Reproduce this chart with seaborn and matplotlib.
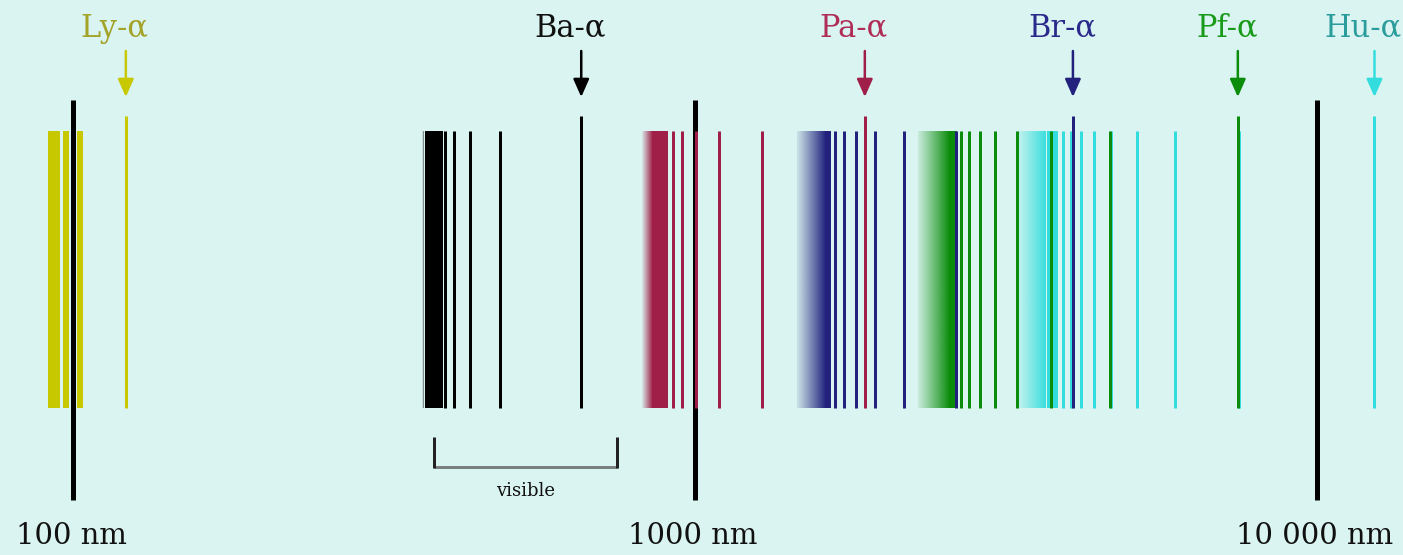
import numpy as np
import matplotlib.pyplot as plt
import seaborn as sns
from matplotlib.colors import to_rgb

# hydrogen spectral series, wavelengths in nm (first entry of each list is the alpha line)
series_names = ["Ly", "Ba", "Pa", "Br", "Pf", "Hu"]
lyman_lines = [121.6, 102.6, 97.3]
balmer_lines = [656.3, 486.1, 434.0, 410.2, 397.0]
paschen_lines = [1875.1, 1281.8, 1093.8, 1004.9, 954.6, 922.9]
brackett_lines = [4051.2, 2625.9, 2166.1, 1944.6, 1817.4, 1736.2, 1680.7]
pfund_lines = [7459.9, 4653.8, 3740.6, 3296.1, 3039.2, 2872.7, 2758.3, 2675.9]
humphreys_lines = [12372.0, 7502.4, 5908.2, 5128.7, 4672.5, 4376.0, 4171.0, 4021.0, 3908.0]

# dense part near each series limit: fades in from the limit, then solid
series_limit = [91.2, 364.6, 820.4, 1458.0, 2279.0, 3282.0]
band_solid_from = [91.3, 368.5, 852.0, 1620.0, 2560.0, 3680.0]
band_solid_to = [95.3, 393.0, 905.0, 1655.0, 2640.0, 3830.0]

decades = [100, 1000, 10000]
decade_labels = ["100 nm", "1000 nm", "10 000 nm"]
visible_range = [380, 750]

line_colors = ["#c8c800", "#000000", "#a01f48", "#22227e", "#0b8c0b", "#33dddd"]
label_colors = ["#a3a32a", "#111111", "#b02d58", "#2a2a8c", "#1a9a1a", "#2a9c9c"]
bg = "#daf5f1"

all_lines = [lyman_lines, balmer_lines, paschen_lines, brackett_lines, pfund_lines, humphreys_lines]

sns.set_theme(style="white")
plt.rcParams["font.family"] = ["DejaVu Serif"]

fig = plt.figure(figsize=(14.03, 5.55), dpi=100, facecolor=bg)
ax = fig.add_axes([0, 0, 1, 1])
ax.set_facecolor(bg)
ax.set_xscale("log")

px = 0.72  # points per pixel at 100 dpi
band_top, band_bottom, alpha_top = 131, 408, 116

# draw from the longest series up so the shorter ones sit on top
for i in reversed(range(len(series_names))):
    c = line_colors[i]
    z = 2 + (len(series_names) - i)
    lines = all_lines[i]

    # fading part of the band
    if band_solid_from[i] > series_limit[i] * 1.002:
        img = np.zeros((1, 64, 4))
        img[..., :3] = to_rgb(c)
        img[0, :, 3] = np.linspace(0.1, 1.0, 64)
        ax.imshow(img, extent=[series_limit[i], band_solid_from[i], band_bottom, band_top],
                  aspect="auto", interpolation="bilinear", zorder=z)
    ax.fill_between([band_solid_from[i], band_solid_to[i]], band_top, band_bottom,
                    color=c, lw=0, zorder=z)

    lw = 6 * px if series_names[i] == "Ly" else 3 * px
    ax.vlines(lines[1:], band_top, band_bottom, color=c, lw=lw, zorder=z)
    ax.vlines(lines[0], alpha_top, band_bottom, color=c, lw=3 * px, zorder=z)

    # arrow + label for the alpha line
    ax.annotate("", xy=(lines[0], 97), xytext=(lines[0], 51),
                arrowprops=dict(arrowstyle="-|>,head_length=0.9,head_width=0.4",
                                color=c, lw=1.8, shrinkA=0, shrinkB=0))
    ax.annotate(f"{series_names[i]}-α", xy=(lines[0], 28), xytext=(-11 * px, 0),
                textcoords="offset points", color=label_colors[i],
                ha="center", va="center", fontsize=22)

# decade markers
ax.vlines(decades, 100, 500, color="black", lw=5 * px, zorder=1)
for d, lab in zip(decades, decade_labels):
    ax.annotate(lab, xy=(d, 536), xytext=(-2 * px, 0), textcoords="offset points",
                ha="center", va="center", fontsize=21, color="#111111")

# visible bracket
ax.plot(visible_range, [467, 467], color="#7a7f7f", lw=3 * px, solid_capstyle="butt")
ax.vlines(visible_range, 437, 468, color="#222222", lw=3 * px)
ax.text(np.sqrt(visible_range[0] * visible_range[1]), 491, "visible",
        ha="center", va="center", fontsize=13, color="#111111")

ax.set_xlim(10 ** (2 - 73 / 622), 10 ** (2 + 1330 / 622))
ax.set_ylim(555, 0)
ax.axis("off")

fig.savefig("out.png", dpi=100, facecolor=bg)
